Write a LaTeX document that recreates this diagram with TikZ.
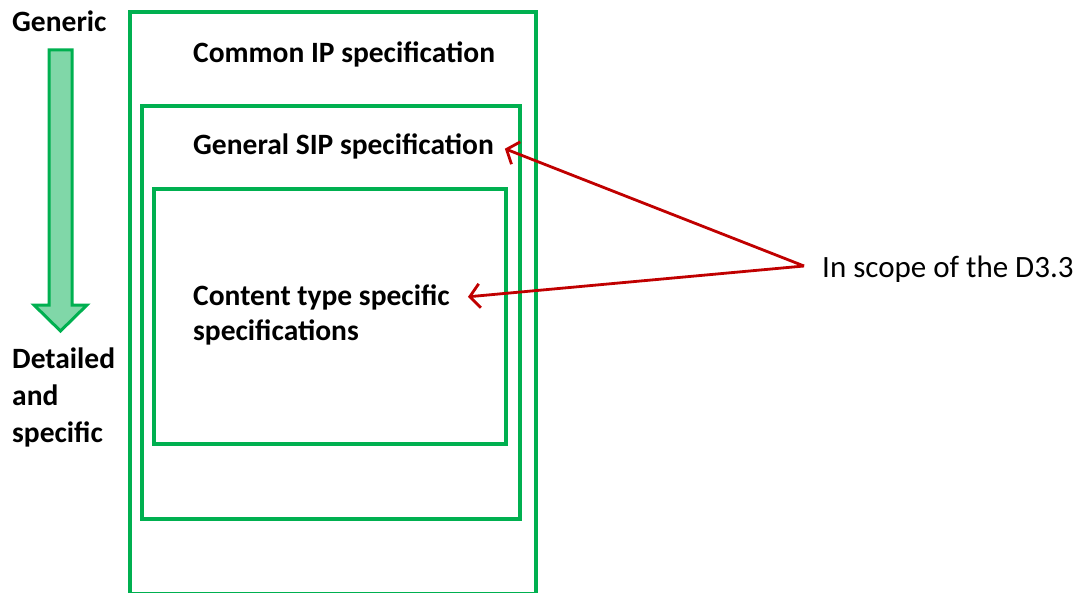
\documentclass[tikz,border=0pt]{standalone}
\usepackage{fontspec}
\setmainfont{Carlito}
\usetikzlibrary{arrows.meta}
\definecolor{officegreen}{HTML}{00B050}
\definecolor{darkred}{HTML}{C00000}
\tikzset{
	specbox/.style={draw=officegreen, line width=4pt},
	speclabel/.style={font=\bfseries\fontsize{29.5}{36}\selectfont, inner sep=0pt, anchor=base west, align=left},
	scopearrow/.style={draw=darkred, line width=2.8pt, -{Straight Barb[length=10pt,width=24pt]}, shorten >=2pt}
}

\begin{document}
\begin{tikzpicture}[x=1pt, y=-1pt]
		%%%%% START %%%%%
		\useasboundingbox (0, 0) rectangle (1091, 593);
		
		% nested boxes
		\draw[specbox] (130, 12) rectangle (536, 594);
		\draw[specbox] (142, 106) rectangle (520, 519);
		\draw[specbox] (154, 189) rectangle (506, 444);
		
		% generic -> specific arrow
		\draw[line width=3pt, draw=officegreen, fill=officegreen!50, line join=miter]
			(49, 50) -- (72, 50) -- (72, 305) -- (87, 305) -- (60.5, 331) -- (34, 305) -- (49, 305) -- cycle;
		
		\node[speclabel] (generic) at (12, 32) {Generic};
		\node[speclabel, font=\bfseries\fontsize{29.5}{37}\selectfont] (detailed) at (12, 442) {Detailed\\and\\specific};
		
		\node[speclabel] (commonip) at (193, 63) {Common IP specification};
		\node[speclabel] (generalsip) at (193, 155) {General SIP specification};
		\node[speclabel, font=\bfseries\fontsize{29.5}{35}\selectfont] (contenttype) at (193, 340) {Content type specific\\specifications};
		
		\node[speclabel, font=\fontsize{31}{36}\selectfont] (scope) at (822, 278) {In scope of the D3.3};
		\coordinate (fork) at (804, 266);
		\coordinate (sipend) at (503, 148);
		\coordinate (typeend) at (466, 297);
		
		\draw[scopearrow] (fork) -- (sipend);
		\draw[scopearrow] (fork) -- (typeend);
		%%%%% END %%%%%
	\end{tikzpicture}
\end{document}
